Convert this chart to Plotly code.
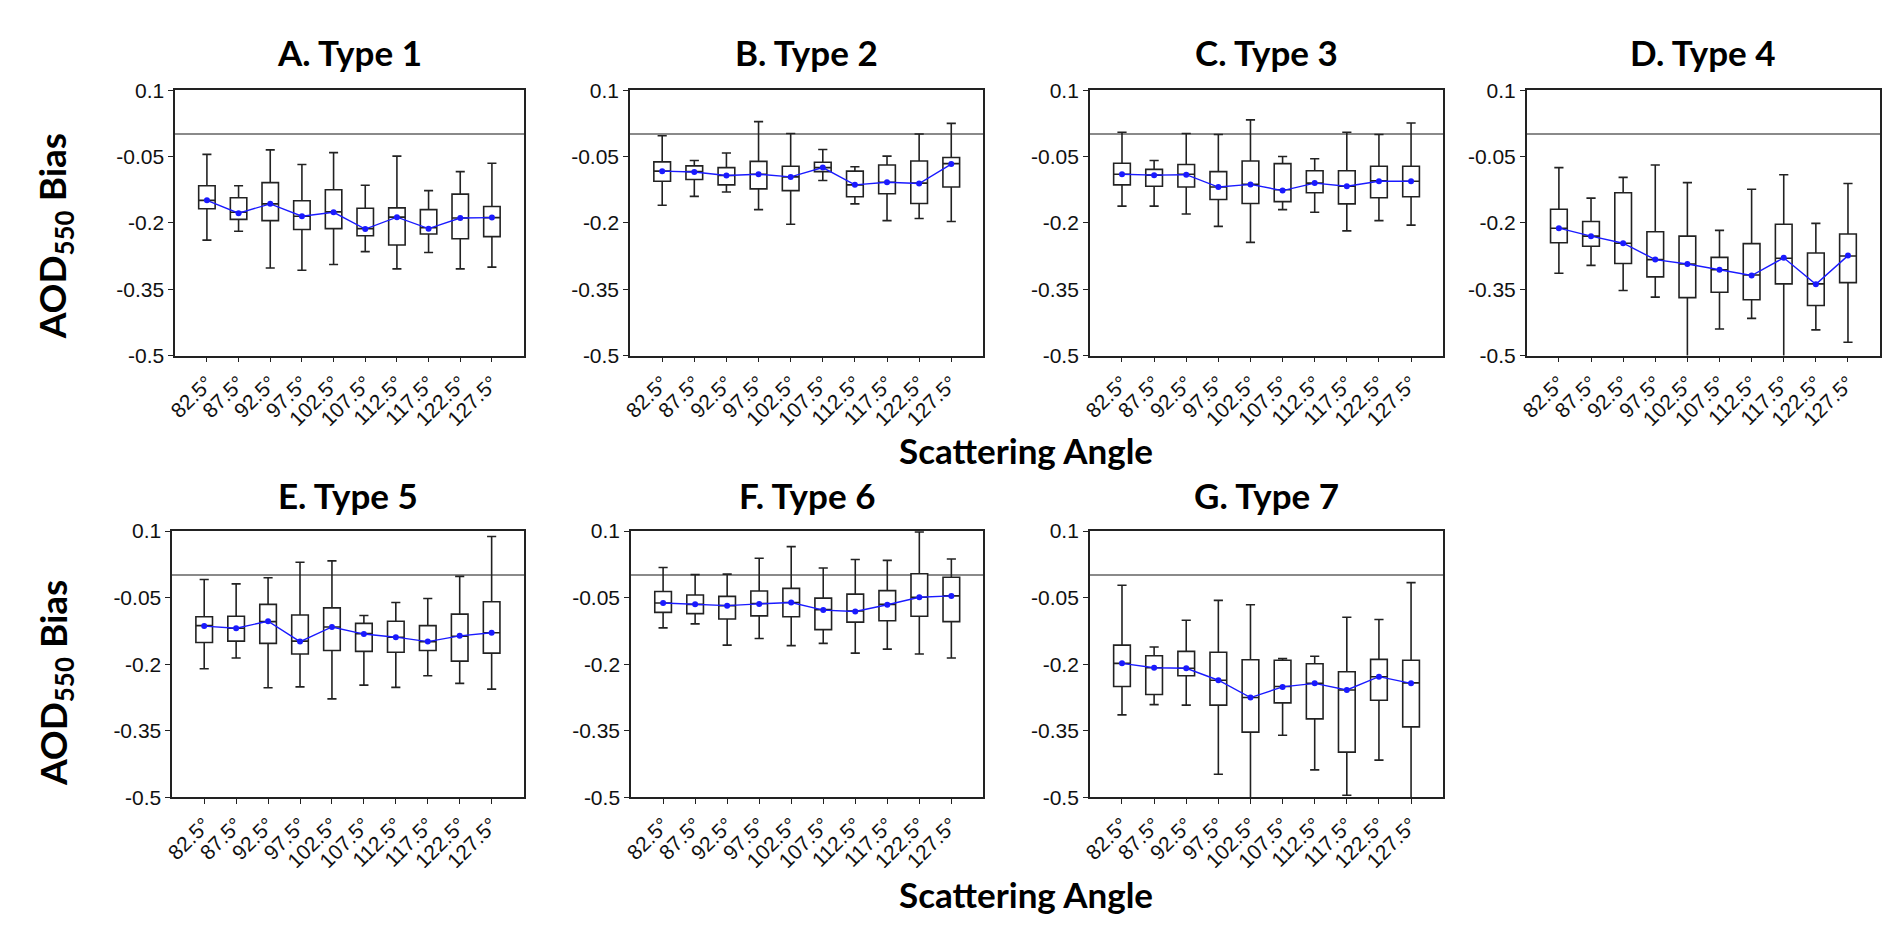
import plotly.graph_objects as go

W, H = 1892, 935

ANGLES = ["82.5°", "87.5°", "92.5°", "97.5°", "102.5°", "107.5°", "112.5°", "117.5°", "122.5°", "127.5°"]
TITLES = ["A. Type 1", "B. Type 2", "C. Type 3", "D. Type 4", "E. Type 5", "F. Type 6", "G. Type 7"]
YTICK_VALS = [0.1, -0.05, -0.2, -0.35, -0.5]
YTICK_TEXT = ["0.1", "-0.05", "-0.2", "-0.35", "-0.5"]

# Type 1
T1_UPPER = [-0.045, -0.116, -0.035, -0.068, -0.041, -0.115, -0.049, -0.127, -0.084, -0.065]
T1_Q3 = [-0.116, -0.143, -0.109, -0.150, -0.125, -0.167, -0.166, -0.170, -0.135, -0.163]
T1_MED = [-0.149, -0.176, -0.157, -0.185, -0.175, -0.213, -0.187, -0.211, -0.189, -0.188]
T1_Q1 = [-0.168, -0.192, -0.195, -0.215, -0.213, -0.229, -0.250, -0.225, -0.236, -0.231]
T1_LOWER = [-0.239, -0.219, -0.302, -0.307, -0.294, -0.265, -0.304, -0.267, -0.304, -0.300]
T1_MEAN = [-0.149, -0.178, -0.157, -0.185, -0.176, -0.214, -0.187, -0.213, -0.189, -0.188]

# Type 2
T2_UPPER = [-0.003, -0.059, -0.042, 0.029, 0.002, -0.034, -0.073, -0.049, 0.001, 0.025]
T2_Q3 = [-0.062, -0.071, -0.075, -0.061, -0.072, -0.063, -0.083, -0.069, -0.060, -0.052]
T2_MED = [-0.083, -0.084, -0.093, -0.090, -0.096, -0.075, -0.114, -0.108, -0.110, -0.066]
T2_Q1 = [-0.106, -0.102, -0.114, -0.123, -0.127, -0.084, -0.141, -0.134, -0.156, -0.119]
T2_LOWER = [-0.160, -0.140, -0.130, -0.170, -0.203, -0.104, -0.157, -0.195, -0.190, -0.197]
T2_MEAN = [-0.083, -0.085, -0.093, -0.090, -0.096, -0.075, -0.114, -0.108, -0.111, -0.067]

# Type 3
T3_UPPER = [0.005, -0.059, 0.002, 0.000, 0.033, -0.050, -0.055, 0.005, 0.000, 0.026]
T3_Q3 = [-0.065, -0.079, -0.068, -0.084, -0.060, -0.066, -0.082, -0.082, -0.072, -0.072]
T3_MED = [-0.090, -0.092, -0.090, -0.119, -0.113, -0.125, -0.110, -0.117, -0.105, -0.106]
T3_Q1 = [-0.114, -0.117, -0.119, -0.147, -0.156, -0.152, -0.132, -0.157, -0.143, -0.141]
T3_LOWER = [-0.162, -0.162, -0.180, -0.208, -0.244, -0.170, -0.176, -0.218, -0.195, -0.205]
T3_MEAN = [-0.090, -0.092, -0.091, -0.119, -0.113, -0.127, -0.110, -0.117, -0.106, -0.106]

# Type 4
T4_UPPER = [-0.075, -0.144, -0.097, -0.069, -0.109, -0.217, -0.124, -0.091, -0.201, -0.111]
T4_Q3 = [-0.169, -0.197, -0.132, -0.220, -0.230, -0.278, -0.247, -0.203, -0.268, -0.225]
T4_MED = [-0.212, -0.230, -0.246, -0.283, -0.293, -0.306, -0.318, -0.280, -0.338, -0.275]
T4_Q1 = [-0.245, -0.253, -0.292, -0.322, -0.369, -0.357, -0.374, -0.338, -0.387, -0.335]
T4_LOWER = [-0.314, -0.296, -0.353, -0.368, -0.560, -0.440, -0.416, -0.560, -0.442, -0.470]
T4_MEAN = [-0.212, -0.230, -0.246, -0.283, -0.293, -0.306, -0.319, -0.279, -0.339, -0.274]

# Type 5
T5_UPPER = [-0.009, -0.019, -0.005, 0.030, 0.033, -0.090, -0.061, -0.052, -0.002, 0.088]
T5_Q3 = [-0.093, -0.092, -0.065, -0.089, -0.073, -0.108, -0.103, -0.113, -0.087, -0.059]
T5_MED = [-0.113, -0.119, -0.104, -0.148, -0.116, -0.131, -0.139, -0.149, -0.137, -0.129]
T5_Q1 = [-0.151, -0.148, -0.153, -0.177, -0.169, -0.171, -0.173, -0.169, -0.193, -0.175]
T5_LOWER = [-0.210, -0.186, -0.253, -0.251, -0.278, -0.247, -0.252, -0.226, -0.243, -0.256]
T5_MEAN = [-0.114, -0.119, -0.103, -0.149, -0.116, -0.132, -0.139, -0.149, -0.136, -0.129]

# Type 6
T6_UPPER = [0.018, 0.002, 0.003, 0.039, 0.065, 0.017, 0.036, 0.034, 0.098, 0.037]
T6_Q3 = [-0.036, -0.044, -0.047, -0.035, -0.029, -0.051, -0.042, -0.034, 0.004, -0.004]
T6_MED = [-0.062, -0.065, -0.068, -0.063, -0.061, -0.077, -0.080, -0.065, -0.049, -0.046]
T6_Q1 = [-0.083, -0.086, -0.098, -0.091, -0.093, -0.122, -0.105, -0.102, -0.092, -0.104]
T6_LOWER = [-0.118, -0.109, -0.157, -0.142, -0.158, -0.153, -0.175, -0.166, -0.177, -0.186]
T6_MEAN = [-0.062, -0.065, -0.068, -0.064, -0.061, -0.078, -0.081, -0.066, -0.049, -0.046]

# Type 7
T7_UPPER = [-0.022, -0.161, -0.101, -0.056, -0.066, -0.187, -0.182, -0.094, -0.099, -0.016]
T7_Q3 = [-0.157, -0.181, -0.171, -0.173, -0.190, -0.191, -0.199, -0.217, -0.189, -0.191]
T7_MED = [-0.198, -0.208, -0.209, -0.236, -0.275, -0.250, -0.243, -0.258, -0.228, -0.242]
T7_Q1 = [-0.250, -0.268, -0.226, -0.292, -0.353, -0.287, -0.323, -0.398, -0.281, -0.341]
T7_LOWER = [-0.314, -0.291, -0.292, -0.448, -0.560, -0.360, -0.438, -0.495, -0.416, -0.560]
T7_MEAN = [-0.198, -0.208, -0.209, -0.236, -0.275, -0.251, -0.243, -0.258, -0.228, -0.243]

PANEL_DATA = [
    (T1_UPPER, T1_Q3, T1_MED, T1_Q1, T1_LOWER, T1_MEAN),
    (T2_UPPER, T2_Q3, T2_MED, T2_Q1, T2_LOWER, T2_MEAN),
    (T3_UPPER, T3_Q3, T3_MED, T3_Q1, T3_LOWER, T3_MEAN),
    (T4_UPPER, T4_Q3, T4_MED, T4_Q1, T4_LOWER, T4_MEAN),
    (T5_UPPER, T5_Q3, T5_MED, T5_Q1, T5_LOWER, T5_MEAN),
    (T6_UPPER, T6_Q3, T6_MED, T6_Q1, T6_LOWER, T6_MEAN),
    (T7_UPPER, T7_Q3, T7_MED, T7_Q1, T7_LOWER, T7_MEAN),
]

# layout in pixels (left, right) / (top, bottom)
X_PIX = [(159, 509), (616, 971), (1078, 1433), (1517, 1872), (156, 509), (617, 971), (1078, 1433)]
ROW_PIX = [(72, 344), (524, 797)]
ROWS = [0, 0, 0, 0, 1, 1, 1]

TITLE_FONT = dict(family="Lato, Open Sans, sans-serif", size=35, color="black")
YLAB_FONT = dict(family="Lato, Open Sans, sans-serif", size=37, color="black")
TICK_FONT = dict(family="Liberation Sans, Arial, sans-serif", size=21, color="#111")
FRAME = "#222222"
BLUE = "#1a1aff"

fig = go.Figure()
layout = dict(
    width=W, height=H, autosize=False,
    margin=dict(l=0, r=0, t=0, b=0),
    paper_bgcolor="white", plot_bgcolor="white",
    showlegend=False,
    annotations=[],
)

def px_x(p):
    return p / W

def px_y(p):
    return 1 - p / H

for i, (upper, q3, med, q1, lower, mean) in enumerate(PANEL_DATA):
    n = i + 1
    xs = "x" if n == 1 else f"x{n}"
    ys = "y" if n == 1 else f"y{n}"
    fig.add_trace(go.Box(
        x=ANGLES, q1=q1, median=med, q3=q3, lowerfence=lower, upperfence=upper,
        fillcolor="white", line=dict(color=FRAME, width=1.6),
        width=0.52, whiskerwidth=0.55, boxpoints=False,
        xaxis=xs, yaxis=ys, showlegend=False,
    ))
    fig.add_trace(go.Scatter(
        x=ANGLES, y=mean, mode="lines+markers",
        line=dict(color=BLUE, width=1.4),
        marker=dict(color=BLUE, size=6),
        xaxis=xs, yaxis=ys, showlegend=False,
    ))
    xl, xr = X_PIX[i]
    yt, yb = ROW_PIX[ROWS[i]]
    xkey = "xaxis" if n == 1 else f"xaxis{n}"
    ykey = "yaxis" if n == 1 else f"yaxis{n}"
    layout[xkey] = dict(
        domain=[px_x(xl), px_x(xr)], anchor=ys, type="category",
        categoryorder="array", categoryarray=ANGLES, range=[-1, 10],
        tickangle=-45, ticks="outside", ticklen=5, tickwidth=1.3, tickcolor=FRAME,
        tickfont=TICK_FONT, showline=True, mirror=True, linecolor=FRAME, linewidth=1.6,
        showgrid=False, zeroline=False,
    )
    layout[ykey] = dict(
        domain=[px_y(yb), px_y(yt)], anchor=xs, range=[-0.5, 0.1],
        tickvals=YTICK_VALS, ticktext=YTICK_TEXT,
        ticks="outside", ticklen=5, tickwidth=1.3, tickcolor=FRAME,
        tickfont=TICK_FONT, showline=True, mirror=True, linecolor=FRAME, linewidth=1.6,
        showgrid=False, zeroline=True, zerolinecolor="#8a8a8a", zerolinewidth=1.5,
    )
    title_y = 33 if ROWS[i] == 0 else 487
    layout["annotations"].append(dict(
        text=f"<b>{TITLES[i]}</b>", x=px_x((xl + xr) / 2), y=px_y(title_y),
        xref="paper", yref="paper", xanchor="center", yanchor="middle",
        showarrow=False, font=TITLE_FONT,
    ))

# axis titles
for yc in (222, 680):
    layout["annotations"].append(dict(
        text="<b>AOD<sub>550</sub> Bias</b>", x=px_x(38), y=px_y(yc),
        xref="paper", yref="paper", xanchor="center", yanchor="middle",
        textangle=-90, showarrow=False, font=YLAB_FONT,
    ))
for yc in (441, 896):
    layout["annotations"].append(dict(
        text="<b>Scattering Angle</b>", x=px_x(1014), y=px_y(yc),
        xref="paper", yref="paper", xanchor="center", yanchor="middle",
        showarrow=False, font=TITLE_FONT,
    ))

fig.update_layout(**layout)
fig.write_html("out.html")
